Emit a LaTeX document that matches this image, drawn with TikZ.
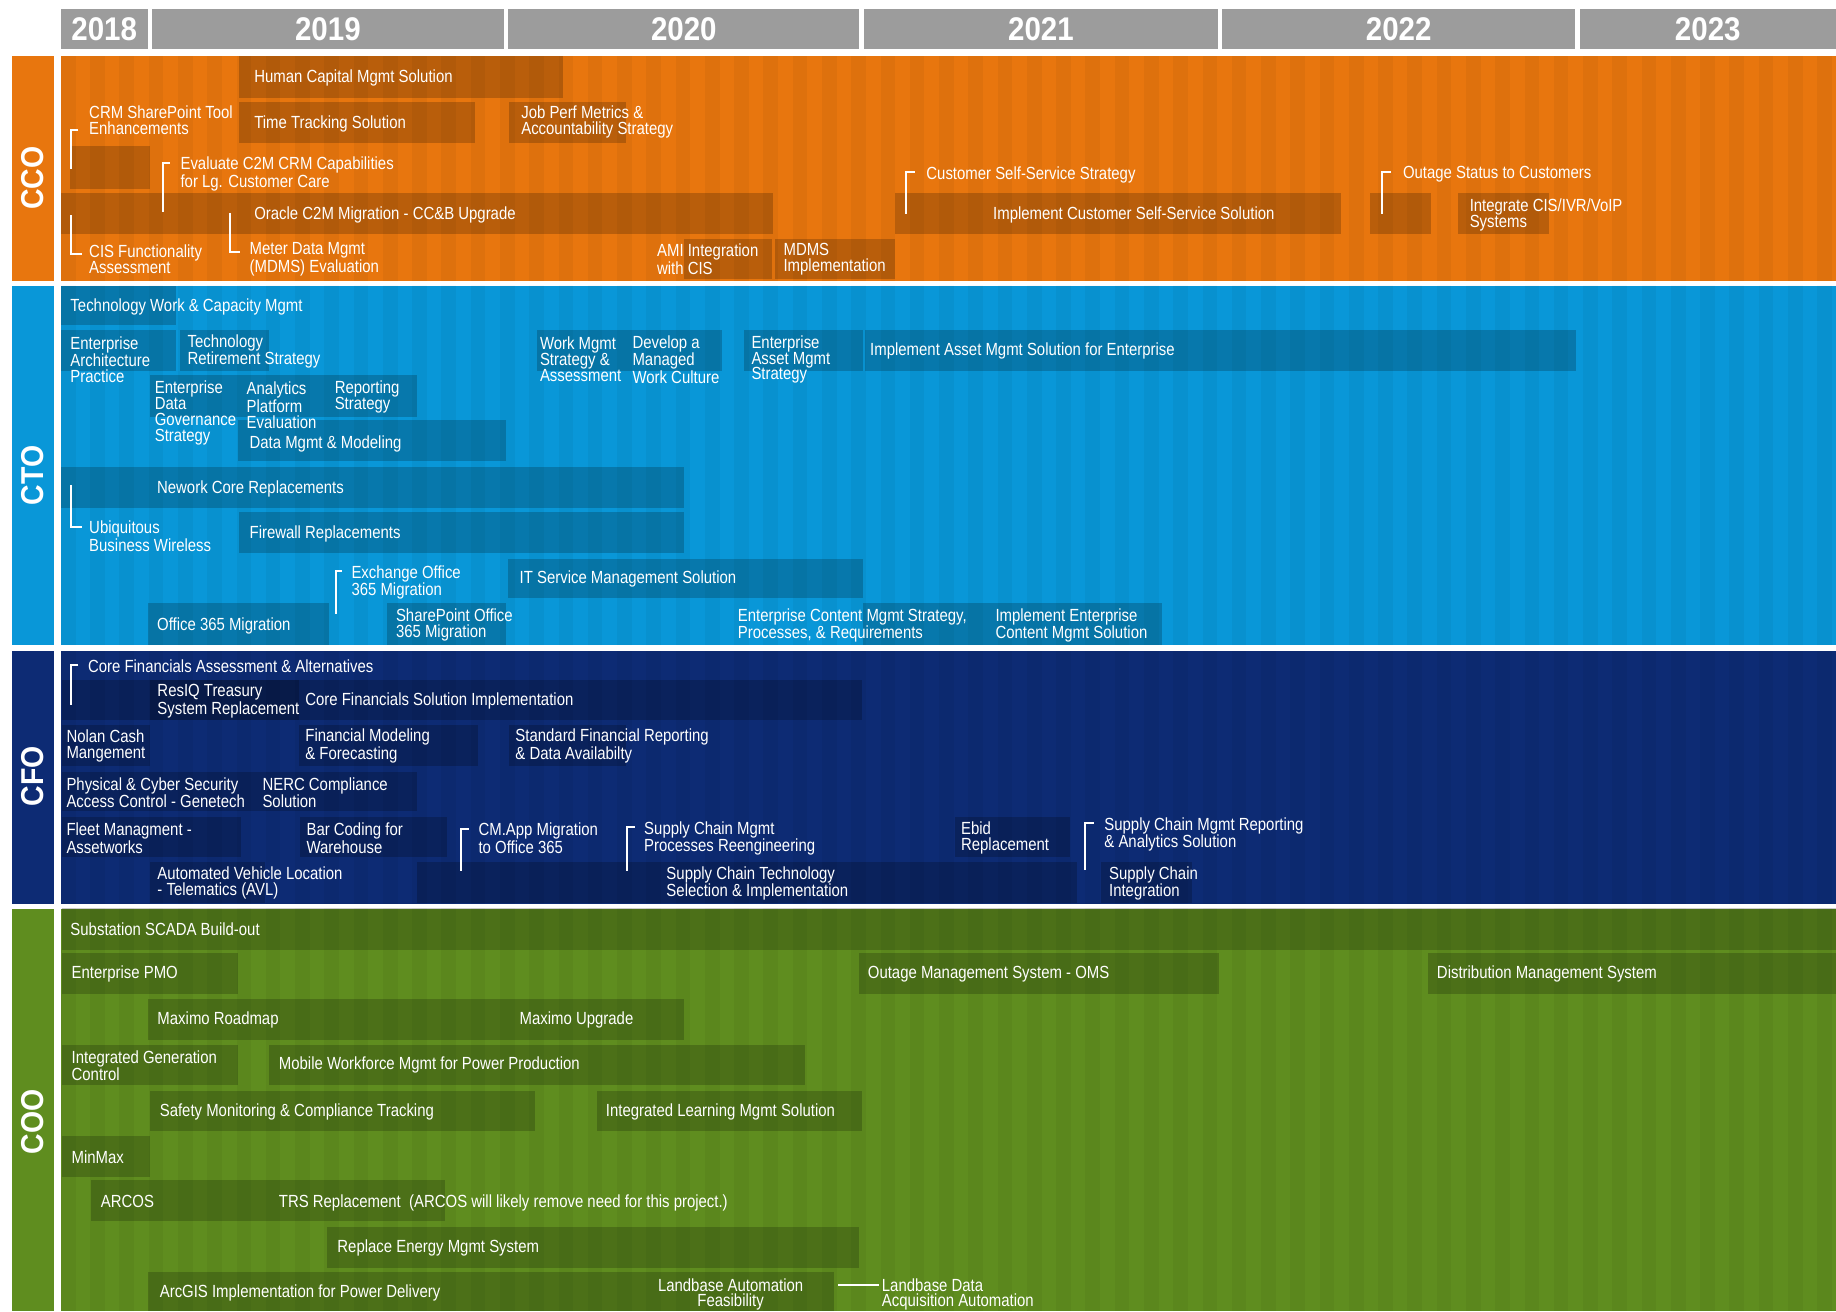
\documentclass[tikz,border=0pt]{standalone}
\usepackage{fontspec}
\setmainfont{Liberation Sans}
\newfontfamily\barfont{Liberation Sans}[FakeStretch=0.85]
\newfontfamily\headfont{Liberation Sans}[FakeStretch=0.9]
\usepackage{tikz}
\definecolor{ccoc}{HTML}{E8760E}
\definecolor{ctoc}{HTML}{0997D8}
\definecolor{cfoc}{HTML}{0D2B74}
\definecolor{cooc}{HTML}{5F8D1F}
\definecolor{yearbar}{HTML}{9C9C9C}

\begin{document}
\begin{tikzpicture}[
    x=1pt, y=-1pt,
    yr/.style={fill=yearbar, text=white, inner sep=0pt, minimum height=34pt,
               font=\headfont\bfseries\fontsize{28}{28}\selectfont},
    sec/.style={text=white, rotate=90, inner sep=0pt,
                font=\headfont\bfseries\fontsize{27}{27}\selectfont},
    tbar/.style={fill=black, fill opacity=0.2},
    tlbl/.style={anchor=west, inner sep=0pt, text=white, align=left, yshift=-1pt,
                 font=\barfont\fontsize{15}{13.6}\selectfont},
    brk/.style={draw=white, line width=1.8pt},
]
\useasboundingbox (0,0) rectangle (1568,1120);
\fill[white] (0,0) rectangle (1568,1120);

% year header
\node[yr, minimum width=74pt]  (y18) at (89,25)   {2018};
\node[yr, minimum width=300pt] (y19) at (280,25)  {2019};
\node[yr, minimum width=300pt] (y20) at (584,25)  {2020};
\node[yr, minimum width=302pt] (y21) at (889,25)  {2021};
\node[yr, minimum width=301pt] (y22) at (1194.5,25) {2022};
\node[yr, minimum width=219pt] (y23) at (1458.5,25) {2023};

% sections
\fill[ccoc] (10,48) rectangle (46,240);   \fill[ccoc] (52,48) rectangle (1568,240);
\fill[ctoc] (10,244) rectangle (46,551);  \fill[ctoc] (52,244) rectangle (1568,551);
\fill[cfoc] (10,556) rectangle (46,772);  \fill[cfoc] (52,556) rectangle (1568,772);
\fill[cooc] (10,776) rectangle (46,1120); \fill[cooc] (52,776) rectangle (1568,1120);

\begin{scope}
\clip (52,48) rectangle (1568,240) (52,244) rectangle (1568,551)
      (52,556) rectangle (1568,772) (52,776) rectangle (1568,1120);
\foreach \sx in {52,77,...,1568}
    \fill[black, opacity=0.04] (\sx,48) rectangle ++(12.5,1072);
\end{scope}

\node[sec] (scco) at (28,152) {CCO};
\node[sec] (scto) at (28,406) {CTO};
\node[sec] (scfo) at (28,663) {CFO};
\node[sec] (scoo) at (28,958) {COO};

% CCO
\fill[tbar] (204,48) rectangle (481,84);
\fill[tbar] (204,87) rectangle (406,122);
\fill[tbar] (435,87) rectangle (535,122);
\fill[tbar] (60,125) rectangle (128,161);
\fill[tbar] (52,165) rectangle (660,200);
\fill[tbar] (584,204) rectangle (659,238);
\fill[tbar] (662,204) rectangle (764,238);
\fill[tbar] (764,165) rectangle (1145,200);
\fill[tbar] (1170,165) rectangle (1222,200);
\fill[tbar] (1245,165) rectangle (1323,200);

\node[tlbl] (hcm)   at (217,66)    {Human Capital Mgmt Solution};
\node[tlbl] (ttr)   at (217,104.5) {Time Tracking Solution};
\node[tlbl] (jpm)   at (445,103.5) {Job Perf Metrics \&\\Accountability Strategy};
\node[tlbl] (crm)   at (76,101.5)  {CRM SharePoint Tool\\Enhancements};
\node[tlbl] (evc)   at (154,147.5) {Evaluate C2M CRM Capabilities\\for Lg. Customer Care};
\node[tlbl] (oc2m)  at (217,182.5) {Oracle C2M Migration - CC\&B Upgrade};
\node[tlbl] (cisf)  at (76,220.5)  {CIS Functionality\\Assessment};
\node[tlbl] (mdm)   at (213,220.5) {Meter Data Mgmt\\(MDMS) Evaluation};
\node[tlbl] (ami)   at (561,220.5) {AMI Integration\\with CIS};
\node[tlbl] (mdmsi) at (669,220.5) {MDMS\\Implementation};
\node[tlbl] (css)   at (791,148)   {Customer Self-Service Strategy};
\node[tlbl] (icss)  at (848,182.5) {Implement Customer Self-Service Solution};
\node[tlbl] (ost)   at (1198,148)  {Outage Status to Customers};
\node[tlbl] (icis)  at (1255,182.3) {Integrate CIS/IVR/VoIP\\Systems};

\coordinate (crmend) at (61,144);
\coordinate (evcend) at (139,181);
\coordinate (cistop) at (61,184);
\coordinate (mdmtop) at (196.5,182);
\coordinate (cssend) at (774,183);
\coordinate (ostend) at (1180,183);
\draw[brk] ([xshift=-9pt,yshift=4pt]crm.south west) -| (crmend);
\draw[brk] ([xshift=-9pt,yshift=-5pt]evc.north west) -| (evcend);
\draw[brk] (cistop) |- ([xshift=-6pt,yshift=-8pt]cisf.north west);
\draw[brk] (mdmtop) |- ([xshift=-8pt,yshift=-8pt]mdm.north west);
\draw[brk] ([xshift=-10pt,yshift=-5pt]css.north west) -| (cssend);
\draw[brk] ([xshift=-10pt,yshift=-5pt]ost.north west) -| (ostend);

% CTO
\fill[tbar] (52,244) rectangle (150,277.5);
\fill[tbar] (52,282) rectangle (150,316.5);
\fill[tbar] (154,282) rectangle (229.6,316.5);
\fill[tbar] (128,320) rectangle (202,356);
\fill[tbar] (202,320) rectangle (280,356);
\fill[tbar] (280,320) rectangle (356,356);
\fill[tbar] (203.5,358.7) rectangle (432,394);
\fill[tbar] (52,398.5) rectangle (584,434);
\fill[tbar] (204.5,437) rectangle (584,472.5);
\fill[tbar] (433.6,477) rectangle (737,511);
\fill[tbar] (126,515) rectangle (280.7,551);
\fill[tbar] (330.8,515) rectangle (432,551);
\fill[tbar] (737,515) rectangle (842,551);
\fill[tbar] (842,515) rectangle (992,551);
\fill[tbar] (458.6,282) rectangle (536,316.5);
\fill[tbar] (536,282) rectangle (616.5,316.5);
\fill[tbar] (635.6,282) rectangle (737,316.5);
\fill[tbar] (739,282) rectangle (1346,316.5);

\node[tlbl] (twc)  at (60,261)     {Technology Work \& Capacity Mgmt};
\node[tlbl] (eap)  at (60,306)     {Enterprise\\Architecture\\Practice};
\node[tlbl] (trs)  at (160,299.3)  {Technology\\Retirement Strategy};
\node[tlbl] (edg)  at (132,352)    {Enterprise\\Data\\Governance\\Strategy};
\node[tlbl] (apf)  at (210.5,345)  {Analytics\\Platform\\Evaluation};
\node[tlbl] (rps)  at (285.7,338.3) {Reporting\\Strategy};
\node[tlbl] (dmm)  at (213,378)    {Data Mgmt \& Modeling};
\node[tlbl] (ncr)  at (134,417)    {Nework Core Replacements};
\node[tlbl] (ubw)  at (76,457)     {Ubiquitous\\Business Wireless};
\node[tlbl] (fwr)  at (213,455)    {Firewall Replacements};
\node[tlbl] (exo)  at (300,496.3)  {Exchange Office\\365 Migration};
\node[tlbl] (itsm) at (443.6,493.3) {IT Service Management Solution};
\node[tlbl] (o365) at (134,533.7)  {Office 365 Migration};
\node[tlbl] (spo)  at (338,533)    {SharePoint Office\\365 Migration};
\node[tlbl] (ecm)  at (630,533)    {Enterprise Content Mgmt Strategy,\\Processes, \& Requirements};
\node[tlbl] (iecm) at (850,533)    {Implement Enterprise\\Content Mgmt Solution};
\node[tlbl] (wms)  at (461,306)    {Work Mgmt\\Strategy \&\\Assessment};
\node[tlbl] (dmw)  at (540,306)    {Develop a\\Managed\\Work Culture};
\node[tlbl] (eam)  at (641.6,306)  {Enterprise\\Asset Mgmt\\Strategy};
\node[tlbl] (iam)  at (743,299)    {Implement Asset Mgmt Solution for Enterprise};

\coordinate (ubwtop) at (61,414);
\coordinate (exoend) at (287,524);
\draw[brk] (ubwtop) |- ([xshift=-6pt,yshift=-5pt]ubw.north west);
\draw[brk] ([xshift=-8pt,yshift=-5pt]exo.north west) -| (exoend);

% CFO
\fill[tbar] (52.6,580.7) rectangle (736,614.8);
\fill[tbar] (128,580.7) rectangle (255.6,614.8);
\fill[tbar] (52.6,619) rectangle (128,654);
\fill[tbar] (255.6,619) rectangle (408.5,654);
\fill[tbar] (435,619) rectangle (535,654);
\fill[tbar] (52.6,659) rectangle (215.5,693);
\fill[tbar] (215.5,659) rectangle (356,693);
\fill[tbar] (52.6,697.4) rectangle (205.5,732);
\fill[tbar] (256.6,697.4) rectangle (382,732);
\fill[tbar] (128,735.8) rectangle (226.6,771.4);
\fill[tbar] (356,735.8) rectangle (920,771.4);
\fill[tbar] (815.5,697.4) rectangle (914,732);
\fill[tbar] (940,735.8) rectangle (1018,771.4);

\node[tlbl] (cfa)  at (75,567.8)    {Core Financials Assessment \& Alternatives};
\node[tlbl] (cfsi) at (260.6,597.7) {Core Financials Solution Implementation};
\node[tlbl] (rtsr) at (134.3,597.7) {ResIQ Treasury\\System Replacement};
\node[tlbl] (ncm)  at (56.6,636)    {Nolan Cash\\Mangement};
\node[tlbl] (fmf)  at (260.6,636)   {Financial Modeling\\\& Forecasting};
\node[tlbl] (sfr)  at (440,636)     {Standard Financial Reporting\\\& Data Availabilty};
\node[tlbl] (pcs)  at (56.6,676)    {Physical \& Cyber Security\\Access Control - Genetech};
\node[tlbl] (nerc) at (224,676)     {NERC Compliance\\Solution};
\node[tlbl] (fma)  at (56.6,715)    {Fleet Managment -\\Assetworks};
\node[tlbl] (bcw)  at (261.6,715)   {Bar Coding for\\Warehouse};
\node[tlbl] (cma)  at (408.5,715)   {CM.App Migration\\to Office 365};
\node[tlbl] (scp)  at (550,715)     {Supply Chain Mgmt\\Processes Reengineering};
\node[tlbl] (avl)  at (134.3,753.3) {Automated Vehicle Location\\- Telematics (AVL)};
\node[tlbl] (sct)  at (569,753.3)   {Supply Chain Technology\\Selection \& Implementation};
\node[tlbl] (ebid) at (820.6,715)   {Ebid\\Replacement};
\node[tlbl] (scr)  at (943,711.6)   {Supply Chain Mgmt Reporting\\\& Analytics Solution};
\node[tlbl] (sci)  at (947,753.3)   {Supply Chain\\Integration};

\coordinate (cfaend) at (61,602);
\coordinate (cmaend) at (393.5,744);
\coordinate (scpend) at (535.3,744);
\coordinate (scrend) at (926.6,743);
\draw[brk] ([xshift=-8pt,yshift=-5pt]cfa.north west) -| (cfaend);
\draw[brk] ([xshift=-8pt,yshift=-5pt]cma.north west) -| (cmaend);
\draw[brk] ([xshift=-8pt,yshift=-5pt]scp.north west) -| (scpend);
\draw[brk] ([xshift=-9pt,yshift=-5pt]scr.north west) -| (scrend);

% COO
\fill[tbar] (52.6,775.7) rectangle (1568,811);
\fill[tbar] (52.6,814) rectangle (203,849);
\fill[tbar] (734,814) rectangle (1041,849);
\fill[tbar] (1219.7,814) rectangle (1568,849);
\fill[tbar] (126,853.4) rectangle (432,888);
\fill[tbar] (432,853.4) rectangle (584,888);
\fill[tbar] (52.6,892.4) rectangle (203,926.6);
\fill[tbar] (229.6,892.4) rectangle (687.7,926.6);
\fill[tbar] (127.8,931.4) rectangle (457,965.6);
\fill[tbar] (510,931.4) rectangle (736,965.6);
\fill[tbar] (52.6,970) rectangle (128,1005);
\fill[tbar] (77.7,1008) rectangle (229.6,1042.4);
\fill[tbar] (229.6,1008) rectangle (380,1042.4);
\fill[tbar] (279,1047.6) rectangle (734,1083);
\fill[tbar] (126,1086) rectangle (712,1120);

\node[tlbl] (scada)  at (60,792.8)    {Substation SCADA Build-out};
\node[tlbl] (pmo)    at (61,831)      {Enterprise PMO};
\node[tlbl] (oms)    at (741,831)     {Outage Management System - OMS};
\node[tlbl] (dms)    at (1227,831)    {Distribution Management System};
\node[tlbl] (mxr)    at (134.3,870)   {Maximo Roadmap};
\node[tlbl] (mxu)    at (443.6,870)   {Maximo Upgrade};
\node[tlbl] (igc)    at (61,909.2)    {Integrated Generation\\Control};
\node[tlbl] (mwf)    at (238,908.6)   {Mobile Workforce Mgmt for Power Production};
\node[tlbl] (smc)    at (136.3,948.5) {Safety Monitoring \& Compliance Tracking};
\node[tlbl] (ilm)    at (517.3,948.5) {Integrated Learning Mgmt Solution};
\node[tlbl] (mnx)    at (61,987)      {MinMax};
\node[tlbl] (arcos)  at (86,1025.4)   {ARCOS};
\node[tlbl] (trsr)   at (238,1026)    {TRS Replacement~~(ARCOS will likely remove need for this project.)};
\node[tlbl] (rems)   at (288,1065)    {Replace Energy Mgmt System};
\node[tlbl] (arcgis) at (136.3,1103)  {ArcGIS Implementation for Power Delivery};
\node[tlbl, anchor=center, align=center] (laf) at (624,1104.5) {Landbase Automation\\Feasibility};
\node[tlbl] (ldaa)   at (753,1104.5)  {Landbase Data\\Acquisition Automation};

\coordinate (lafline) at (716,1097.4);
\draw[brk, shorten >=2pt] (lafline) -- (lafline -| ldaa.west);

\end{tikzpicture}
\end{document}
